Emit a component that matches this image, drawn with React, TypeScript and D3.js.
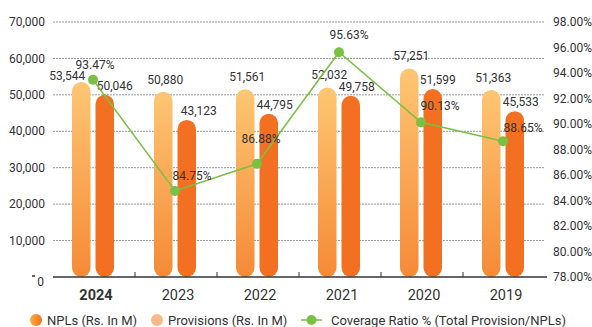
import React from "react";
import * as d3 from "d3";

const years = ["2024", "2023", "2022", "2021", "2020", "2019"];
const npls = [53544, 50880, 51561, 52032, 57251, 51363];
const provisions = [50046, 43123, 44795, 49758, 51599, 45533];
const coverage = [93.47, 84.75, 86.88, 95.63, 90.13, 88.65];
const leftTicks = [0, 10000, 20000, 30000, 40000, 50000, 60000, 70000];
const rightTicks = [78, 80, 82, 84, 86, 88, 90, 92, 94, 96, 98];
// small annotation nudges (label offsets relative to their marks)
const nplLabelDx = [-14, 2, 2, 2, 2, 2];
const provLabelDx = [10, 12, 6, 6, 5, 6];
const pctLabelDx = [2, 17, 4, 10, 19, 20];
const pctLabelDy = [-11, -11, -21, -13, -12, -9];

const W = 592;
const H = 327;
const FONT = "Roboto, 'Noto Sans', sans-serif";

export default function App() {
  const x = d3.scaleBand<string>().domain(years).range([53, 545]).padding(0);
  const yL = d3.scaleLinear().domain([0, 70000]).range([277, 22]);
  const yR = d3.scaleLinear().domain([78, 98]).range([277, 22]);
  const fmt = d3.format(",");
  const cx = (i: number) => (x(years[i]) as number) + x.bandwidth() / 2 - 1;
  const bw = 18.5;
  const line = d3
    .line<number>()
    .x((_, i) => cx(i))
    .y((d) => yR(d));

  return (
    <svg
      width={W}
      height={H}
      style={{ position: "absolute", left: 0, top: 0 }}
      fontFamily={FONT}
    >
      <defs>
        <linearGradient id="lightG" x1="0" y1="0" x2="0" y2="1">
          <stop offset="0%" stopColor="#FEC673" />
          <stop offset="100%" stopColor="#F58A36" />
        </linearGradient>
        <linearGradient id="legG" x1="0" y1="0" x2="1" y2="0">
          <stop offset="0%" stopColor="#FBB040" />
          <stop offset="100%" stopColor="#F37021" />
        </linearGradient>
      </defs>
      {/* gridlines */}
      {leftTicks
        .filter((t) => t > 0)
        .map((t) => (
          <line
            key={t}
            x1={53}
            x2={545}
            y1={yL(t)}
            y2={yL(t)}
            stroke="#999"
            strokeWidth={1}
            strokeDasharray="2,1"
          />
        ))}
      {/* left axis labels */}
      {leftTicks.map((t) =>
        t === 0 ? (
          <g key={t}>
            <line x1={32} x2={35} y1={yL(0) - 1} y2={yL(0) - 1} stroke="#333" strokeWidth={1.5} />
            <text x={44} y={yL(0) + 5} dy="0.35em" textAnchor="end" fontSize={12} fill="#333">
              0
            </text>
          </g>
        ) : (
          <text key={t} x={45} y={yL(t)} dy="0.35em" textAnchor="end" fontSize={12} fill="#333">
            {fmt(t)}
          </text>
        )
      )}
      {/* right axis labels */}
      {rightTicks.map((t) => (
        <text key={t} x={553} y={yR(t)} dy="0.35em" textAnchor="start" fontSize={12} fill="#333">
          {t.toFixed(2)}%
        </text>
      ))}
      {/* bars */}
      {years.map((yr, i) => {
        const c = cx(i);
        const t1 = yL(npls[i]);
        const t2 = yL(provisions[i]);
        return (
          <g key={yr}>
            <rect
              x={c - 2.5 - bw}
              y={t1}
              width={bw}
              height={yL(0) - t1}
              rx={bw / 2}
              fill="url(#lightG)"
            />
            <rect
              x={c + 2.5}
              y={t2}
              width={bw}
              height={yL(0) - t2}
              rx={bw / 2}
              fill="#F37022"
            />
          </g>
        );
      })}
      {/* baseline and ticks */}
      <line x1={53} x2={547} y1={277} y2={277} stroke="#333" strokeWidth={1.5} />
      {years.slice(1).map((yr) => (
        <line
          key={yr}
          x1={x(yr) as number}
          x2={x(yr) as number}
          y1={277}
          y2={272}
          stroke="#333"
          strokeWidth={1}
        />
      ))}
      {/* bar labels */}
      {years.map((yr, i) => {
        const c = cx(i);
        return (
          <g key={yr} fontSize={12} fill="#333" textAnchor="middle">
            <text x={c - 2.5 - bw / 2 + nplLabelDx[i]} y={yL(npls[i]) - (i === 0 ? 2 : 8)}>
              {fmt(npls[i])}
            </text>
            <text x={c + 2.5 + bw / 2 + provLabelDx[i]} y={yL(provisions[i]) - 5}>
              {fmt(provisions[i])}
            </text>
          </g>
        );
      })}
      {/* coverage line */}
      <path d={line(coverage) || ""} fill="none" stroke="#7AC143" strokeWidth={1.5} />
      {coverage.map((v, i) => (
        <circle key={i} cx={cx(i)} cy={yR(v)} r={5} fill="#7AC143" />
      ))}
      {coverage.map((v, i) => (
        <text
          key={i}
          x={cx(i) + pctLabelDx[i]}
          y={yR(v) + pctLabelDy[i]}
          textAnchor="middle"
          fontSize={12}
          fill="#333"
        >
          {v.toFixed(2)}%
        </text>
      ))}
      {/* year labels */}
      {years.map((yr, i) => (
        <text
          key={yr}
          x={cx(i) + 3}
          y={300}
          textAnchor="middle"
          fontSize={14.5}
          fontWeight={i === 0 ? 700 : 400}
          fill="#333"
        >
          {yr}
        </text>
      ))}
      {/* legend */}
      <g fontSize={13} fill="#333">
        <circle cx={36} cy={320} r={6} fill="url(#legG)" />
        <text x={47} y={320} dy="0.35em">NPLs (Rs. In M)</text>
        <circle cx={157} cy={320} r={6} fill="#F9B98A" />
        <text x={168} y={320} dy="0.35em">Provisions (Rs. In M)</text>
        <line x1={301} x2={322} y1={320} y2={320} stroke="#7AC143" strokeWidth={1.5} />
        <circle cx={311.5} cy={320} r={5} fill="#7AC143" />
        <text x={331} y={320} dy="0.35em">Coverage Ratio % (Total Provision/NPLs)</text>
      </g>
    </svg>
  );
}
